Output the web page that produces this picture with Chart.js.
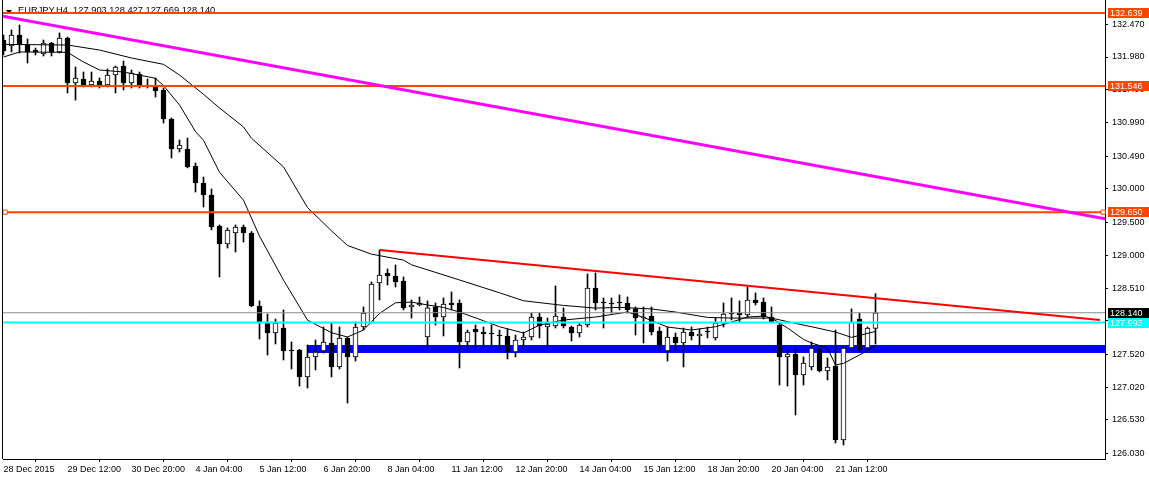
<!DOCTYPE html>
<html>
<head>
<meta charset="utf-8">
<script src="https://cdn.jsdelivr.net/npm/chart.js@4.4.1/dist/chart.umd.min.js"></script>
<style>
  html, body { margin: 0; padding: 0; background: #fff; }
  canvas { display: block; }
</style>
</head>
<body>
<canvas id="chart" width="1149" height="477"></canvas>
<script>
// EURJPY H4 - velas
var titulo = "EURJPY,H4  127.903 128.427 127.669 128.140";

var openP = [132.235,132.145,132.310,132.160,132.085,132.025,132.190,132.055,132.265,131.590,
  131.650,131.560,131.620,131.560,131.710,131.845,131.590,131.725,131.560,131.545,
  131.485,131.049,130.599,130.599,130.344,130.088,129.908,129.443,129.172,129.338,
  129.428,129.338,128.242,127.986,127.836,127.911,127.581,127.581,127.176,127.476,
  127.566,127.686,127.326,127.761,127.476,127.926,127.986,128.587,128.737,128.692,
  128.617,128.227,128.257,127.776,128.227,128.076,128.287,128.287,127.701,127.896,
  127.851,127.826,127.806,127.791,127.551,127.731,127.776,128.076,127.926,127.941,
  128.076,127.926,127.836,127.956,128.512,128.292,128.277,128.302,128.287,128.197,
  128.061,128.091,127.866,127.566,127.776,127.686,127.851,127.791,127.856,127.761,
  127.986,128.126,128.136,128.106,128.332,128.302,128.076,127.956,127.476,127.521,
  127.206,127.326,127.596,127.266,127.341,126.230,127.611,128.046,127.611,127.903];
var highP = [132.310,132.386,132.461,132.250,132.115,132.235,132.200,132.341,132.280,131.830,
  131.755,131.755,131.665,131.800,131.845,131.920,131.785,131.755,131.650,131.665,
  131.515,131.064,130.734,130.764,130.389,130.178,129.998,129.458,129.413,129.458,
  129.458,129.360,128.317,128.121,128.046,128.182,127.701,127.590,127.656,127.731,
  127.926,127.986,127.926,127.776,128.001,128.227,128.602,129.082,128.797,128.857,
  128.677,128.332,128.377,128.317,128.287,128.362,128.452,128.332,127.881,127.956,
  127.926,127.956,127.881,127.896,127.806,127.851,128.136,128.136,128.061,128.542,
  128.212,127.941,127.986,128.722,128.737,128.362,128.362,128.407,128.377,128.227,
  128.227,128.227,127.926,127.926,127.836,127.911,127.926,127.896,127.926,128.061,
  128.287,128.362,128.317,128.527,128.437,128.362,128.227,127.986,127.581,127.611,
  127.476,127.701,127.626,127.461,127.881,127.620,128.197,128.136,127.926,128.427];
var lowP = [132.010,132.055,132.040,131.890,132.010,131.995,131.995,132.040,131.440,131.334,
  131.530,131.530,131.515,131.530,131.440,131.485,131.515,131.515,131.515,131.380,
  130.989,130.464,130.554,130.315,129.953,129.728,129.383,128.677,129.112,129.052,
  129.202,128.230,127.746,127.506,127.671,127.431,127.296,127.040,127.010,127.281,
  127.536,127.176,127.296,126.785,127.416,127.881,127.986,128.332,128.557,128.527,
  128.182,128.061,128.242,127.626,127.956,127.791,128.182,127.311,127.581,127.626,
  127.641,127.641,127.581,127.446,127.476,127.611,127.731,127.761,127.626,127.911,
  127.911,127.716,127.776,127.926,128.182,127.911,128.136,128.182,128.136,127.806,
  127.686,127.806,127.581,127.416,127.566,127.326,127.731,127.611,127.761,127.731,
  127.926,128.031,128.001,128.076,128.257,128.046,127.986,127.055,127.040,126.605,
  127.055,127.281,127.251,127.131,126.185,126.155,127.581,127.551,127.581,127.669];
var closeP = [132.070,132.310,132.160,132.055,132.055,132.190,132.055,132.265,131.590,131.665,
  131.560,131.620,131.560,131.710,131.830,131.590,131.740,131.560,131.545,131.470,
  131.049,130.599,130.659,130.329,130.088,129.908,129.428,129.172,129.383,129.428,
  129.338,128.242,128.001,127.836,127.986,127.566,127.566,127.176,127.476,127.551,
  127.701,127.326,127.761,127.476,127.926,128.136,128.572,128.707,128.692,128.602,
  128.212,128.257,128.287,128.212,128.076,128.272,128.257,127.701,127.851,127.851,
  127.821,127.821,127.791,127.551,127.731,127.776,128.076,127.941,127.971,128.091,
  127.941,127.836,127.956,128.512,128.287,128.287,128.272,128.287,128.182,128.061,
  128.076,127.851,127.656,127.776,127.686,127.851,127.791,127.821,127.851,127.986,
  128.121,128.121,128.106,128.332,128.287,128.076,128.001,127.476,127.521,127.206,
  127.386,127.611,127.266,127.326,126.230,127.611,128.001,127.581,127.911,128.140];

// medias moviles (barra, precio)
var maSlowIdx = [0,8,12,16,20,22,25,27,30,31,35,38,41,43,46,50,51,57,62,65,70,74,77,81,84,88,91,96,99,101,104,106,107,109];
var maSlowVal = [132.17,132.16,132.085,131.965,131.87,131.71,131.42,131.215,130.93,130.76,130.33,129.72,129.37,129.15,129.02,128.93,128.86,128.632,128.44,128.32,128.25,128.21,128.22,128.197,128.151,128.07,128.06,128.06,127.98,127.93,127.85,127.77,127.80,127.86];
var maFastIdx = [0,2,8,10,12,15,19,20,22,24,25,27,30,32,35,38,41,43,45,47,49,51,53,55,57,60,62,65,67,70,74,78,80,83,86,89,91,93,95,96,98,100,101,103,104,105,107,109];
var maFastVal = [131.98,132.055,132.05,131.905,131.785,131.755,131.66,131.55,131.26,130.86,130.73,130.25,129.83,129.29,128.63,128.03,127.84,127.776,127.881,128.13,128.29,128.30,128.257,128.22,128.15,128.02,127.93,127.836,127.956,128.03,128.076,128.151,128.07,127.926,127.881,127.93,128.00,128.076,128.09,128.061,127.911,127.74,127.686,127.61,127.356,127.38,127.506,127.64];

// eje x
var xTickPos = [0,8,16,24,32,40,48,56,64,72,80,88,96,104];
var xTickLabels = ["28 Dec 2015","29 Dec 12:00","30 Dec 20:00","4 Jan 04:00","5 Jan 12:00","6 Jan 20:00",
  "8 Jan 04:00","11 Jan 12:00","12 Jan 20:00","14 Jan 04:00","15 Jan 12:00","18 Jan 20:00","20 Jan 04:00","21 Jan 12:00"];
// eje y
var yTickVals = [132.470,131.980,131.490,130.990,130.490,130.000,129.500,129.000,128.510,128.020,127.520,127.020,126.530,126.030];

// objetos dibujados
var orangeLevels = [132.639, 131.546, 129.650];
var cyanLevel = 127.993;
var bidLevel = 128.140;
var zoneStart = 38, zoneLow = 127.536, zoneHigh = 127.656;
var magentaX = [-0.44, 137.69], magentaY = [132.60, 129.55];
var redX = [47, 137.06], redY = [129.082, 128.03];
var anchorX = [0.2, 137.45];

var X_MIN = -0.0625, X_MAX = 137.6875;
var Y_MIN = 125.944, Y_MAX = 132.836;

var NARANJA = "#FF4500";

function puntos(xs, ys) {
    var out = [];
    for (var i = 0; i < xs.length; i++) out.push({ x: xs[i], y: ys[i] });
    return out;
}

function horizontal(p) {
    return [{ x: X_MIN, y: p }, { x: X_MAX, y: p }];
}

var wicks = [], bodies = [], bodyColors = [];
for (var i = 0; i < openP.length; i++) {
    wicks.push({ x: i, y: [lowP[i], highP[i]] });
    bodies.push({ x: i, y: [openP[i], closeP[i]] });
    bodyColors.push(closeP[i] > openP[i] ? "#ffffff" : "#000000");
}

var datasets = [];
datasets.push({ type: "bar", data: wicks, backgroundColor: "#000", borderWidth: 0, barThickness: 1, grouped: false, order: 20 });
datasets.push({ type: "bar", data: bodies, backgroundColor: bodyColors, borderColor: "#000", borderWidth: 1,
    borderSkipped: false, barThickness: 5, minBarLength: 1, grouped: false, order: 19 });

function linea(data, color, width, order) {
    return { type: "line", data: data, borderColor: color, borderWidth: width, pointRadius: 0,
        fill: false, tension: 0, order: order };
}

datasets.push(linea(puntos(maSlowIdx, maSlowVal), "#000", 1, 15));
datasets.push(linea(puntos(maFastIdx, maFastVal), "#000", 1, 14));
datasets.push(linea(horizontal(bidLevel), "#8c8c8c", 1, 12));
datasets.push(linea(horizontal(cyanLevel), "#00FFFF", 2, 11));
for (var j = 0; j < orangeLevels.length; j++) {
    datasets.push(linea(horizontal(orangeLevels[j]), NARANJA, 2, 10));
}
datasets.push(linea(puntos(redX, redY), "#FF0000", 2, 9));
datasets.push(linea(puntos(magentaX, magentaY), "#FF00FF", 3, 8));
// anclas de la linea 129.650
datasets.push({ type: "line", data: puntos(anchorX, [orangeLevels[2], orangeLevels[2]]), showLine: false,
    pointStyle: "rect", pointRadius: 3, pointBorderColor: NARANJA, pointBackgroundColor: "#fff",
    pointBorderWidth: 1, clip: false, order: 1 });

var fondo = {
    id: "fondo",
    beforeDatasetsDraw: function (chart) {
        var ctx = chart.ctx, xs = chart.scales.x, ys = chart.scales.y, a = chart.chartArea;
        ctx.save();
        // zona azul
        var x0 = xs.getPixelForValue(zoneStart);
        var y0 = ys.getPixelForValue(zoneHigh), y1 = ys.getPixelForValue(zoneLow);
        ctx.fillStyle = "#0000FF";
        ctx.fillRect(x0, y0, a.right - x0, y1 - y0);
        // titulo
        ctx.fillStyle = "#000";
        ctx.beginPath();
        ctx.moveTo(6, 10); ctx.lineTo(12, 10); ctx.lineTo(9, 13.5); ctx.closePath();
        ctx.fill();
        ctx.font = "9.3px 'Liberation Sans'";
        ctx.textBaseline = "alphabetic";
        ctx.fillText(titulo, 18, 13);
        ctx.restore();
    },
    afterDraw: function (chart) {
        var ctx = chart.ctx, ys = chart.scales.y, a = chart.chartArea;
        ctx.save();
        // borde izquierdo
        ctx.fillStyle = "#000";
        ctx.fillRect(a.left - 1, a.top, 1, a.bottom - a.top);
        var etiquetas = [];
        for (var k = 0; k < orangeLevels.length; k++) etiquetas.push([orangeLevels[k], NARANJA]);
        etiquetas.push([bidLevel, "#000000"]);
        etiquetas.push([cyanLevel, "#00FFFF"]);
        ctx.font = "9px 'Liberation Sans'";
        ctx.textBaseline = "middle";
        for (var e = 0; e < etiquetas.length; e++) {
            var y = Math.round(ys.getPixelForValue(etiquetas[e][0]));
            ctx.fillStyle = etiquetas[e][1];
            ctx.fillRect(1108, y - 5, 41, 10);
            ctx.fillStyle = "#fff";
            ctx.fillText(etiquetas[e][0].toFixed(3), 1110, y + 0.5);
        }
        ctx.restore();
    }
};

Chart.defaults.font.family = "'Liberation Sans', Arial, sans-serif";
Chart.defaults.font.size = 9;
Chart.defaults.color = "#000";

new Chart(document.getElementById("chart"), {
    type: "bar",
    data: { datasets: datasets },
    options: {
        responsive: false,
        animation: false,
        devicePixelRatio: 1,
        events: [],
        layout: { autoPadding: false, padding: { left: 3, top: 0, right: 0, bottom: 0 } },
        plugins: { legend: { display: false }, tooltip: { enabled: false } },
        scales: {
            x: {
                type: "linear", min: X_MIN, max: X_MAX, offset: false,
                grid: { display: true, drawOnChartArea: false, drawTicks: true, tickLength: 3, color: "#000" },
                border: { display: true, color: "#000" },
                ticks: { autoSkip: false, maxRotation: 0, align: "start", padding: 2,
                    callback: function (v, i) { return xTickLabels[i]; } },
                afterBuildTicks: function (s) { s.ticks = xTickPos.map(function (v) { return { value: v }; }); },
                afterFit: function (s) { s.height = 18; s.paddingLeft = 0; s.paddingRight = 0; }
            },
            y: {
                type: "linear", position: "right", min: Y_MIN, max: Y_MAX,
                grid: { display: true, drawOnChartArea: false, drawTicks: true, tickLength: 3, color: "#000" },
                border: { display: true, color: "#000" },
                ticks: { padding: 4, callback: function (v) { return v.toFixed(3); } },
                afterBuildTicks: function (s) { s.ticks = yTickVals.map(function (v) { return { value: v }; }); },
                afterFit: function (s) { s.width = 44; s.paddingTop = 0; s.paddingBottom = 0; }
            }
        }
    },
    plugins: [fondo]
});
</script>
</body>
</html>
